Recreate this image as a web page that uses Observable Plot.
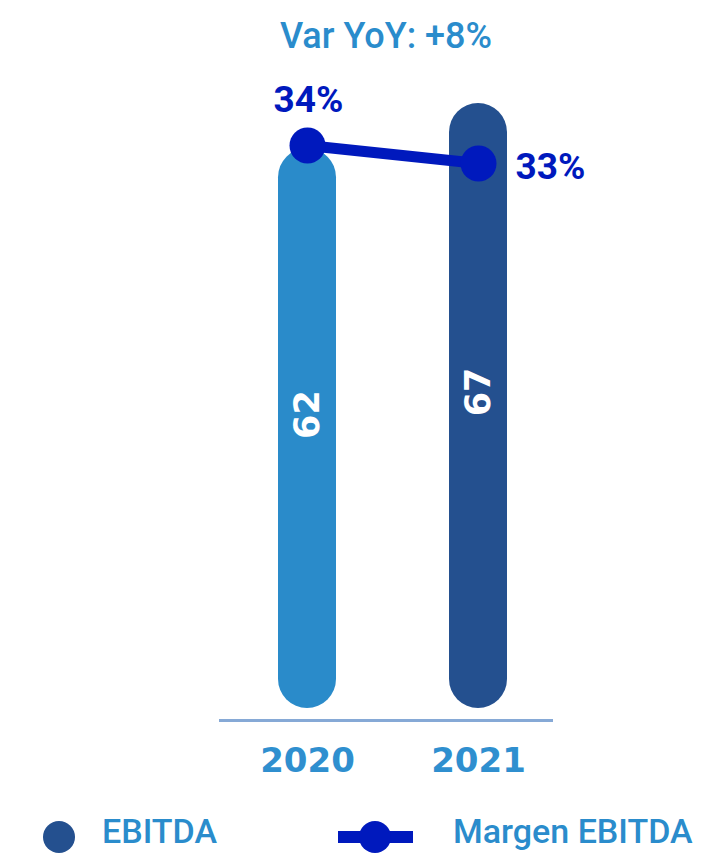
<!DOCTYPE html>
<html>
<head>
<meta charset="utf-8">
<script src="https://cdn.jsdelivr.net/npm/d3@7"></script>
<script src="https://cdn.jsdelivr.net/npm/@observablehq/plot@0.6"></script>
<style>
  html, body { margin: 0; padding: 0; background: #fff; }
  #wrap { position: relative; width: 712px; height: 853px; overflow: hidden; }
  #wrap > * { position: absolute; left: 0; }
  #title { top: 0; width: 772px; text-align: center; font-family: Roboto, sans-serif; font-weight: 500; font-size: 36px; line-height: 36px; color: #2a8ccc; padding-top: 18px; }
</style>
</head>
<body>
<div id="wrap">
  <div id="title">Var YoY: +8%</div>
</div>
<script>
const years = ["2020", "2021"];
const ebitda = [62, 67];
const margin = [34, 33];
const barColors = ["#2a8bca", "#24508f"];
const lineColor = "#0019bd";
const textBlue = "#2a8ccc";

const bars = years.map((y, i) => ({year: y, value: ebitda[i]}));
const pts = years.map((y, i) => ({year: y, m: margin[i], label: margin[i] + "%"}));

const W = 712, H = 790;
const xScale = {type: "band", domain: years, range: [278, 508], paddingInner: 0.66, paddingOuter: 0};

const barPlot = Plot.plot({
  width: W, height: H,
  marginLeft: 219, marginRight: 159, marginTop: 103, marginBottom: 82,
  style: {fontFamily: "'DejaVu Sans', sans-serif", fontSize: "34px", fontWeight: "bold", color: "#2f8fcf", background: "transparent"},
  x: {...xScale, tickSize: 0, tickPadding: 39, label: null},
  y: {domain: [0, 67], axis: null},
  color: {domain: years, range: barColors},
  marks: [
    Plot.barY(bars, {x: "year", y: "value", fill: "year", rx: 29, ry: 29}),
    Plot.text(bars, {x: "year", y: d => d.value / 2, text: d => String(d.value), rotate: -90, dy: -14,
      fill: "white", fontSize: 35, fontWeight: "bold", fontFamily: "'DejaVu Sans', sans-serif"}),
    Plot.ruleY([0], {dy: 12, stroke: "#86a9d6", strokeWidth: 3})
  ]
});

const linePlot = Plot.plot({
  width: W, height: H,
  marginLeft: 219, marginRight: 159, marginTop: 103, marginBottom: 82,
  style: {background: "transparent"},
  x: {...xScale, axis: null},
  y: {domain: [33, 34], range: [163, 145], axis: null},
  marks: [
    Plot.line(pts, {x: "year", y: "m", stroke: lineColor, strokeWidth: 11}),
    Plot.dot(pts, {x: "year", y: "m", r: 18, fill: lineColor}),
    Plot.text(pts.filter((d, i) => i === 0), {x: "year", y: "m", text: "label", dy: -45, dx: 1,
      fill: lineColor, fontSize: 37, fontWeight: "bold", fontFamily: "Roboto, sans-serif"}),
    Plot.text(pts.filter((d, i) => i === 1), {x: "year", y: "m", text: "label", dx: 37, dy: 4, textAnchor: "start",
      fill: lineColor, fontSize: 37, fontWeight: "bold", fontFamily: "Roboto, sans-serif"})
  ]
});

const wrap = document.getElementById("wrap");
barPlot.style.top = "0px";
linePlot.style.top = "0px";
wrap.appendChild(barPlot);
wrap.appendChild(linePlot);

// legend
const leg = d3.select(wrap).append("svg")
  .attr("width", 712).attr("height", 63)
  .style("top", "790px");
leg.append("circle").attr("cx", 59).attr("cy", 47).attr("r", 16).attr("fill", barColors[1]);
leg.append("text").attr("x", 102).attr("y", 53).text("EBITDA")
  .attr("fill", textBlue).attr("font-family", "Roboto, sans-serif").attr("font-weight", 500).attr("font-size", 34);
leg.append("rect").attr("x", 338).attr("y", 41).attr("width", 75).attr("height", 12).attr("fill", lineColor);
leg.append("circle").attr("cx", 375).attr("cy", 47).attr("r", 16).attr("fill", lineColor);
leg.append("text").attr("x", 453).attr("y", 53).text("Margen EBITDA")
  .attr("fill", textBlue).attr("font-family", "Roboto, sans-serif").attr("font-weight", 500).attr("font-size", 34);
</script>
</body>
</html>
